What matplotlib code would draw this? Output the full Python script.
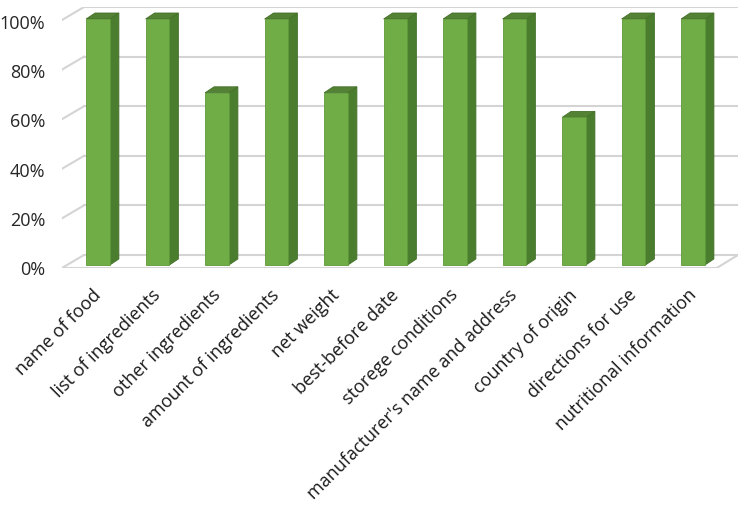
import matplotlib.pyplot as plt
from matplotlib.patches import Polygon

plt.rcParams['font.family'] = ['Open Sans', 'DejaVu Sans']

categories = ["name of food", "list of ingredients", "other ingredients",
              "amount of ingredients", "net weight", "best-before date",
              "storege conditions", "manufacturer's name and address",
              "country of origin", "directions for use", "nutritional information"]
values = [1.0, 1.0, 0.7, 1.0, 0.7, 1.0, 1.0, 1.0, 0.6, 1.0, 1.0]
yticks = [0.0, 0.2, 0.4, 0.6, 0.8, 1.0]
ytick_labels = ["0%", "20%", "40%", "60%", "80%", "100%"]

front = '#70AD47'
side = '#4B7D2E'
top = '#548235'
grid = '#d4d4d4'

fig = plt.figure(figsize=(7.44, 5.05), dpi=100)
ax = fig.add_axes([62/744, (505-268)/505, 676/744, 261/505])
ax.set_xlim(-0.605, 10.756)
ax.set_ylim(-0.0122, 1.0488)
ax.axis('off')

# "3d" depth offsets in data units
bw = 0.40
dx, dy = 0.151, 0.0244
wx0, wx1 = -0.235, 10.756   # back wall
fx0, fx1 = -0.605, 10.40    # front of floor
wy = 0.0407                 # back wall shift

for v in yticks:
    yb = wy + 1.008 * v
    yf = -0.012 + 1.008 * v
    ax.plot([wx0, wx1], [yb, yb], color=grid, lw=1.5, zorder=1)
    ax.plot([fx0, wx0], [yf, yb], color=grid, lw=1.5, zorder=1)
ax.plot([fx0, fx1], [-0.012, -0.012], color=grid, lw=1.5, zorder=1)
ax.plot([fx1, wx1], [-0.012, wy], color=grid, lw=1.5, zorder=1)

for i, v in enumerate(values):
    xr = i + bw / 2
    xl = i - bw / 2
    ax.add_patch(Polygon([(xr, 0), (xr + dx, dy), (xr + dx, v + dy), (xr, v)],
                         facecolor=side, edgecolor='#44702a', lw=0.6, zorder=3))
    ax.add_patch(Polygon([(xl, v), (xl + dx, v + dy), (xr + dx, v + dy), (xr, v)],
                         facecolor=top, edgecolor='#44702a', lw=0.6, zorder=3))
ax.bar(range(len(values)), values, width=bw, color=front, edgecolor='#5e9a38',
       lw=0.6, zorder=4)

for v, lab in zip(yticks, ytick_labels):
    ax.text(-0.89, v - 0.02, lab, ha='right', va='center', fontsize=13,
            color='#262626')

for i, lab in enumerate(categories):
    ax.text(i - 0.1, -0.085, lab, rotation=45, rotation_mode='anchor',
            ha='right', va='top', fontsize=13, color='#1a1a1a')

fig.savefig('out.png', dpi=100)
